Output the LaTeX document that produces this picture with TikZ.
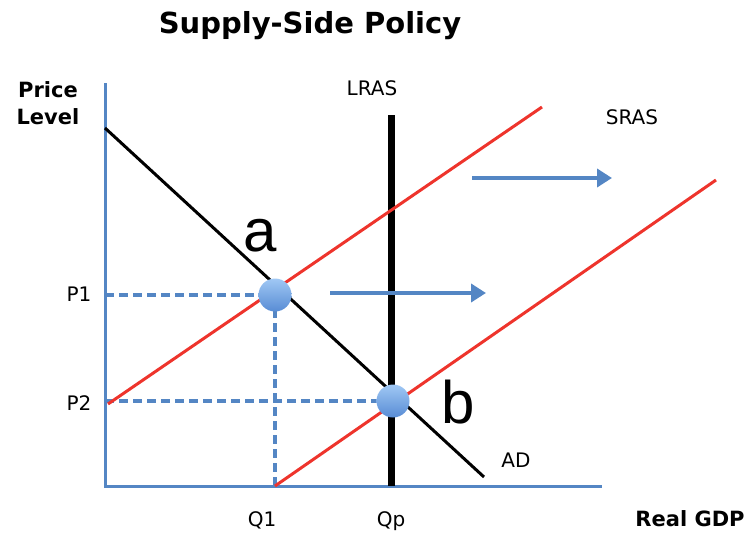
\documentclass[tikz,border=0pt]{standalone}
\usepackage{fontspec}
\setmainfont{DejaVu Sans}
\newfontfamily\letterfont{Liberation Sans}
\usepackage{xcolor}
\usetikzlibrary{calc}
\usetikzlibrary{arrows.meta, shapes}

\definecolor{axisblue}{RGB}{84,134,196}
\definecolor{curvered}{RGB}{238,52,44}
\definecolor{dottop}{RGB}{160,200,245}
\definecolor{dotbottom}{RGB}{88,140,212}

\begin{document}
\begin{tikzpicture}[x = 1pt, y = -1pt]

\tikzstyle{vertex_pt}=[circle, top color = dottop, bottom color = dotbottom, minimum size = 33pt, inner sep = 0pt]
\tikzstyle{curve_S}=[line width = 3, color = curvered]
\tikzstyle{curve_D}=[line width = 3, color = black]
\tikzstyle{guide}=[line width = 4, color = axisblue, dash pattern = on 9pt off 5pt]
\tikzstyle{shift_arrow}=[-{Triangle[length = 15pt, width = 18pt]}, line width = 4.5, color = axisblue]
\tikzstyle{label_n}=[font = \fontsize{20}{24}\selectfont, inner sep = 0pt]
\tikzstyle{label_b}=[font = \fontsize{21}{27}\selectfont\bfseries, inner sep = 0pt, align = center]
\tikzstyle{label_pt}=[font = \fontsize{60}{60}\selectfont\letterfont, inner sep = 0pt]

\useasboundingbox (0, 0) rectangle (756, 541);

\coordinate (O) at (105, 486);
\coordinate (ytop) at (105, 83);
\coordinate (xend) at (602, 486);
\coordinate (lrasT) at (391, 115);
\coordinate (lrasB) at (391, 486);
\coordinate (s1L) at (108, 404);
\coordinate (s1R) at (542, 107);
\coordinate (s2L) at (275, 486);
\coordinate (s2R) at (716, 180);
\coordinate (adL) at (105, 128);
\coordinate (adR) at (484, 477);
\coordinate (yP1) at (105, 295);
\coordinate (yP2) at (105, 401);
\coordinate (xQ1) at (275, 486);
\coordinate (m1a) at (330, 293);
\coordinate (m1b) at (486, 293);
\coordinate (m2a) at (472, 178);
\coordinate (m2b) at (612, 178);

\path
(310, 26) node[font = \fontsize{29}{34}\selectfont\bfseries, inner sep = 0pt](title) {Supply-Side Policy}
(48, 103) node[label_b](ylab) {Price\\Level}
(690, 519) node[label_b](xlab) {Real GDP}
(372, 88) node[label_n](lras) {LRAS}
(632, 117) node[label_n](sras) {SRAS}
(516, 460) node[label_n](ad) {AD}
(79, 294) node[label_n](p1) {P1}
(79, 403) node[label_n](p2) {P2}
(262, 520) node[label_n](q1) {Q1}
(391, 521) node[label_n](qp) {Qp};

%axes
\draw[line width = 3, color = axisblue] (ytop) to (O) to (xend);

%dashed guides
\draw[guide] (yP1) to (275, 295);
\draw[guide] (275, 295) to (xQ1);
\draw[guide] (yP2) to (393, 401);

%curves
\draw[line width = 7, color = black] (lrasT) to (lrasB);
\draw[curve_D] (adL) to (adR);
\draw[curve_S] (s1L) to (s1R);
\draw[curve_S] (s2L) to (s2R);

%shift arrows
\draw[shift_arrow] (m1a) to (m1b);
\draw[shift_arrow] (m2a) to (m2b);

%equilibrium points
\node[vertex_pt] (a) at (275, 295) {};
\node[vertex_pt] (b) at (393, 401) {};
\path
(260, 236) node[label_pt](la) {a}
(458, 402) node[label_pt](lb) {b};

\end{tikzpicture}
\end{document}
